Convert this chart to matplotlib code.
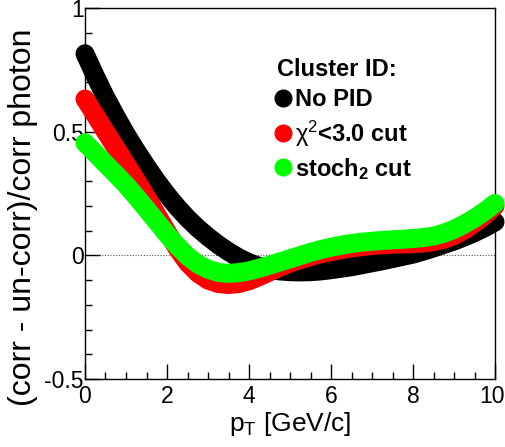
import matplotlib
matplotlib.use("Agg")
import matplotlib.pyplot as plt
import matplotlib.transforms as mtransforms
from matplotlib.lines import Line2D
import numpy as np

plt.rcParams['font.family'] = ['Liberation Sans', 'DejaVu Sans']
plt.rcParams['mathtext.fontset'] = 'custom'
plt.rcParams['mathtext.rm'] = 'Liberation Sans'
plt.rcParams['mathtext.it'] = 'Liberation Sans:italic'
plt.rcParams['mathtext.bf'] = 'Liberation Sans:bold'

# values (pT step 0.25)
pt = [0, 0.25, 0.5, 0.75, 1, 1.25, 1.5, 1.75, 2, 2.25, 2.5, 2.75, 3, 3.25, 3.5, 3.75, 4,
      4.25, 4.5, 4.75, 5, 5.25, 5.5, 5.75, 6, 6.25, 6.5, 6.75, 7, 7.25, 7.5, 7.75, 8,
      8.25, 8.5, 8.75, 9, 9.25, 9.5, 9.75, 10]
no_pid = [0.815, 0.725, 0.64, 0.563, 0.49, 0.423, 0.36, 0.30, 0.245, 0.195, 0.15, 0.11,
          0.075, 0.043, 0.015, -0.01, -0.03, -0.045, -0.056, -0.063, -0.066, -0.067,
          -0.066, -0.063, -0.058, -0.052, -0.046, -0.038, -0.03, -0.022, -0.013, -0.004,
          0.005, 0.017, 0.03, 0.044, 0.058, 0.074, 0.092, 0.112, 0.135]
chi2_cut = [0.632, 0.567, 0.5, 0.435, 0.37, 0.303, 0.235, 0.165, 0.095, 0.028, -0.03,
            -0.072, -0.1, -0.114, -0.118, -0.114, -0.103, -0.086, -0.067, -0.048, -0.031,
            -0.017, -0.005, 0.006, 0.015, 0.023, 0.03, 0.035, 0.04, 0.043, 0.045, 0.046,
            0.047, 0.05, 0.055, 0.065, 0.08, 0.102, 0.13, 0.162, 0.2]
stoch2_cut = [0.455, 0.413, 0.37, 0.328, 0.285, 0.237, 0.187, 0.136, 0.085, 0.038, -0.003,
              -0.035, -0.056, -0.069, -0.073, -0.07, -0.063, -0.052, -0.04, -0.027, -0.014,
              -0.001, 0.012, 0.023, 0.033, 0.041, 0.048, 0.053, 0.057, 0.06, 0.063, 0.065,
              0.068, 0.072, 0.078, 0.089, 0.105, 0.126, 0.15, 0.178, 0.21]

series = [("No PID", no_pid, "#000000"),
          (r"$\mathrm{\chi}^{2}$<3.0 cut", chi2_cut, "#ff0000"),
          (r"stoch$_{\mathbf{2}}$ cut", stoch2_cut, "#00ff00")]

fig = plt.figure(figsize=(5.06, 4.47), dpi=100)
ax = fig.add_axes([85 / 506, 1 - 379 / 447, 410 / 506, 371 / 447])

ax.axhline(0, color="#555555", lw=0.8, ls=(0, (1, 1.5)), zorder=1)

for name, vals, col in series:
    ax.plot(pt, vals, color=col, lw=13.7, solid_capstyle="round",
            solid_joinstyle="round", clip_on=False, zorder=3)

ax.set_xlim(0, 10)
ax.set_ylim(-0.5, 1)
ax.set_xticks([0, 2, 4, 6, 8, 10])
ax.set_xticklabels(["0", "2", "4", "6", "8", "10"])
ax.set_xticks(np.arange(0, 10.01, 0.5), minor=True)
ax.set_yticks([-0.5, 0, 0.5, 1])
ax.set_yticklabels(["-0.5", "0", "0.5", "1"])
ax.set_yticks(np.arange(-0.5, 1.01, 0.1), minor=True)
ax.tick_params(which="both", direction="in", top=False, right=False, labelsize=16.5, width=1)
ax.tick_params(which="major", length=11)
ax.tick_params(axis="x", which="major", pad=4)
ax.tick_params(axis="y", which="major", pad=1)
ax.tick_params(which="minor", length=5)
for s in ax.spines.values():
    s.set_linewidth(1)

# pull the last x label inside the canvas like the original
last = ax.get_xticklabels()[-1]
last.set_transform(last.get_transform() + mtransforms.ScaledTranslation(-3 / 100, 0, fig.dpi_scale_trans))

ax.set_xlabel(r"p$_{\mathrm{T}}$ [GeV/c]", fontsize=19, labelpad=2)
fig.text(0.045, 1 - 28 / 447, "(corr - un-corr)/corr photon", rotation=90,
         ha="center", va="top", fontsize=23)

handles = [Line2D([], [], ls="none", marker="o", ms=12, color=c, mec=c) for _, _, c in series]
leg = ax.legend(handles, [n for n, _, _ in series], title="Cluster ID:", loc="upper left",
                bbox_to_anchor=(0.445, 0.89), frameon=False, handlelength=0.55,
                handletextpad=0.2, labelspacing=0.3, borderaxespad=0,
                alignment="left", prop={"weight": "bold", "size": 17},
                title_fontproperties={"weight": "bold", "size": 17})

fig.savefig("out.png", dpi=100)
